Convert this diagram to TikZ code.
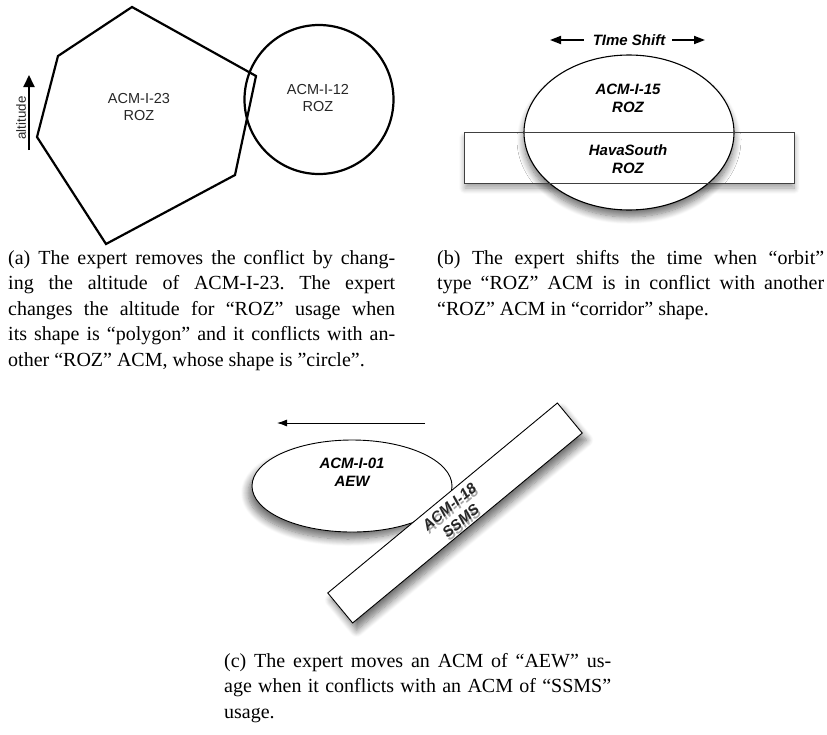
\documentclass[tikz,border=0pt]{standalone}
\usepackage{fontspec}
\setmainfont{Liberation Serif}
\newfontfamily\acmfont{Liberation Sans}
\usetikzlibrary{arrows.meta,shapes.geometric,shadows.blur}

\begin{document}
\begin{tikzpicture}[x=1pt, y=-1pt,
    zone/.style={draw, line width=2.2pt, line join=miter},
    acm/.style={font=\acmfont\fontsize{14.5}{17}\selectfont, align=center, inner sep=0, text=black!85},
    acmb/.style={font=\acmfont\bfseries\itshape\fontsize{15}{18}\selectfont, align=center, inner sep=0},
    caption/.style={font=\frenchspacing\fontsize{20}{25.5}\selectfont, align=justify, inner sep=0, anchor=base west, text width=387pt},
    airspace/.style={draw, line width=0.9pt, inner sep=0},
    soft/.style={blur shadow={shadow xshift=#1, shadow yshift=-7pt, shadow blur radius=7pt, shadow opacity=55, shadow blur steps=10}}]
  \useasboundingbox (0,0) rectangle (827,734);

  % (a) polygon ROZ against circle ROZ
  \draw[zone] (132,7) -- (256,76) -- (235,175) -- (106,244) -- (37,137) -- (58,56) -- cycle;
  \draw[zone] (319,99.5) circle[radius=74.5pt];
  \node[acm] (poly) at (139,107.5) {ACM-I-23\\ROZ};
  \node[acm] (circ) at (318,98.5) {ACM-I-12\\ROZ};
  \coordinate (altlow) at (29,150);
  \coordinate (althigh) at (29,75);
  \draw[line width=2pt, -{Triangle[length=12pt,width=11pt]}] (altlow) -- (althigh);
  \node[acm, rotate=90, font=\acmfont\fontsize{13.3}{15}\selectfont] (altlbl) at (21,118) {altitude};

  % (b) orbit over corridor
  \node[acmb] (shift) at (629,40) {TIme Shift};
  \coordinate (shiftl) at (550,40);
  \coordinate (shiftr) at (705,40);
  \draw[line width=1.8pt, -{Triangle[length=11pt,width=8pt]}] ([xshift=-9pt]shift.west) -- (shiftl);
  \draw[line width=1.8pt, -{Triangle[length=11pt,width=8pt]}] ([xshift=7pt]shift.east) -- (shiftr);
  \node[rectangle, fill=white, inner sep=0, minimum width=329pt, minimum height=50pt,
        blur shadow={shadow xshift=0pt, shadow yshift=-5pt, shadow blur radius=6pt, shadow opacity=40, shadow blur steps=10}] (hava) at (629.5,158) {};
  \node[ellipse, airspace, line width=1.1pt, fill=white, minimum width=210pt, minimum height=155pt, soft=0pt] (orbit) at (629,132.5) {};
  \draw[line width=0.9pt, black!75] (hava.north west) rectangle (hava.south east);
  \node[acmb] (orbitlbl) at (628,98) {ACM-I-15\\ROZ};
  \node[acmb] (havalbl) at (628,159) {HavaSouth\\ROZ};

  % (c) AEW moved off the SSMS corridor
  \coordinate (movefrom) at (425,423);
  \coordinate (moveto) at (277,423);
  \draw[line width=0.9pt, -{Latex[length=10pt,width=7pt]}] (movefrom) -- (moveto);
  \node[ellipse, airspace, fill=white, minimum width=200pt, minimum height=92pt, soft=-4pt] (aew) at (352,486) {};
  \node[acmb] (aewlbl) at (352,472) {ACM-I-01\\AEW};
  \node[rectangle, airspace, fill=white, minimum width=298pt, minimum height=39pt, rotate=39.6, soft=4pt] (ssms) at (455,513) {};
  \node[acmb, rotate=39.6, text=black!35] (ssmsglow) at (457,517) {ACM-I-18\\SSMS};
  \node[acmb, rotate=39.6, text=black!85] (ssmslbl) at (455,514) {ACM-I-18\\SSMS};

  % captions
  \node[caption] (capa) at (8,264) {(a) The expert removes the conflict by chang-\linebreak ing the altitude of ACM-I-23. The expert\linebreak changes the altitude for “ROZ” usage when\linebreak its shape is “polygon” and it conflicts with an-\linebreak other “ROZ” ACM, whose shape is ”circle”.};
  \node[caption] (capb) at (437,264) {(b) The expert shifts the time when “orbit”\linebreak type “ROZ” ACM is in conflict with another\linebreak “ROZ” ACM in “corridor” shape.};
  \node[caption] (capc) at (224,667) {(c) The expert moves an ACM of “AEW” us-\linebreak age when it conflicts with an ACM of “SSMS”\linebreak usage.};
\end{tikzpicture}
\end{document}
